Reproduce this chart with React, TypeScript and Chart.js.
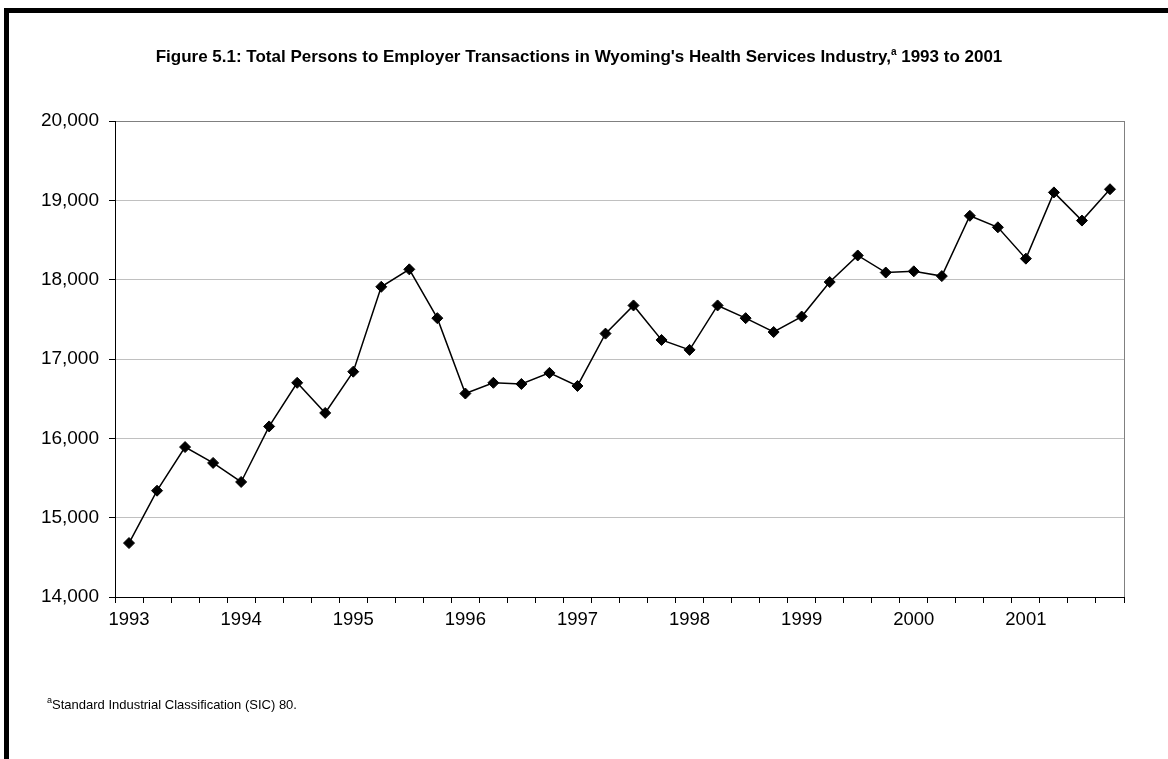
import React, { useEffect, useRef } from "react";
import { Chart, registerables } from "chart.js";

Chart.register(...registerables);

// ---- data ----
const years: string[] = ["1993", "1994", "1995", "1996", "1997", "1998", "1999", "2000", "2001"];
const quarters: string[] = ["Q1", "Q2", "Q3", "Q4"];
const categories: string[] = years.flatMap((y) => quarters.map((q) => `${y} ${q}`));
const transactions: number[] = [
  14680, 15340, 15890, 15690,
  15450, 16150, 16700, 16320,
  16840, 17910, 18130, 17515,
  16565, 16700, 16685, 16825,
  16660, 17320, 17675, 17240,
  17115, 17675, 17515, 17340,
  17535, 17970, 18305, 18090,
  18105, 18045, 18805, 18660,
  18265, 19100, 18745, 19140,
];
const yTickMin = 14000;
const yTickMax = 20000;
const yTickStep = 1000;

const titleMain = "Figure 5.1: Total Persons to Employer Transactions in Wyoming's Health Services Industry,";
const titleSup = "a";
const titleTail = " 1993 to 2001";
const footSup = "a";
const footText = "Standard Industrial Classification (SIC) 80.";

const FONT = '"Liberation Sans", Arial, sans-serif';

const textPlugin = {
  id: "figureText",
  afterDraw(chart: any) {
    const ctx = chart.ctx as CanvasRenderingContext2D;
    const area = chart.chartArea;
    ctx.save();
    // plot-area right border
    ctx.strokeStyle = "#808080";
    ctx.lineWidth = 1;
    ctx.beginPath();
    ctx.moveTo(Math.round(area.right) + 0.5, Math.round(area.top));
    ctx.lineTo(Math.round(area.right) + 0.5, Math.round(area.bottom));
    ctx.stroke();

    // title
    ctx.fillStyle = "#000";
    ctx.textBaseline = "alphabetic";
    ctx.textAlign = "left";
    const mainFont = `bold 17px ${FONT}`;
    const supFont = `bold 10px ${FONT}`;
    ctx.font = mainFont;
    const w1 = ctx.measureText(titleMain).width;
    const w3 = ctx.measureText(titleTail).width;
    ctx.font = supFont;
    const w2 = ctx.measureText(titleSup).width;
    const total = w1 + w2 + w3;
    let x = 579 - total / 2;
    const by = 62;
    ctx.font = mainFont;
    ctx.fillText(titleMain, x, by);
    x += w1;
    ctx.font = supFont;
    ctx.fillText(titleSup, x, by - 7);
    x += w2;
    ctx.font = mainFont;
    ctx.fillText(titleTail, x, by);

    // footnote
    let fx = 47;
    const fy = 709;
    ctx.font = `9px ${FONT}`;
    ctx.fillText(footSup, fx, fy - 6);
    fx += ctx.measureText(footSup).width;
    ctx.font = `13px ${FONT}`;
    ctx.fillText(footText, fx, fy);
    ctx.restore();
  },
};

export default function App() {
  const ref = useRef<HTMLCanvasElement | null>(null);

  useEffect(() => {
    if (!ref.current) return;
    const chart = new Chart(ref.current, {
      type: "line",
      data: {
        labels: categories,
        datasets: [
          {
            data: transactions,
            borderColor: "#000",
            borderWidth: 1.5,
            pointStyle: "rectRot",
            pointRadius: 5.5,
            pointBackgroundColor: "#000",
            pointBorderColor: "#000",
            pointBorderWidth: 1,
            tension: 0,
            fill: false,
          },
        ],
      },
      options: {
        animation: false,
        responsive: false,
        maintainAspectRatio: false,
        layout: { padding: { left: 0, top: 121, right: 44, bottom: 112 } },
        plugins: {
          legend: { display: false },
          title: { display: false },
          tooltip: { enabled: false },
        },
        scales: {
          x: {
            type: "category",
            offset: true,
            afterFit: (scale: any) => {
              scale.height = 50;
            },
            grid: {
              offset: true,
              drawOnChartArea: false,
              drawTicks: true,
              tickLength: 6,
              tickColor: "#000",
              color: "#000",
            },
            border: { color: "#000", width: 1 },
            ticks: {
              autoSkip: false,
              maxRotation: 0,
              minRotation: 0,
              padding: 6,
              color: "#000",
              font: { family: FONT, size: 18.5 },
              callback: (_v: any, i: number) => (i % 4 === 0 ? years[i / 4] : ""),
            },
          },
          y: {
            min: yTickMin,
            max: yTickMax,
            afterFit: (scale: any) => {
              scale.width = 115;
            },
            grid: {
              color: (c: any) => (c.tick && c.tick.value === yTickMax ? "#808080" : "#c0c0c0"),
              tickColor: "#000",
              tickLength: 6,
              lineWidth: 1,
            },
            border: { color: "#000", width: 1 },
            ticks: {
              stepSize: yTickStep,
              padding: 10,
              color: "#000",
              font: { family: FONT, size: 19 },
              callback: (v: any) => Number(v).toLocaleString("en-US"),
            },
          },
        },
      },
      plugins: [textPlugin],
    });
    return () => chart.destroy();
  }, []);

  return (
    <div style={{ position: "absolute", left: 0, top: 0, width: 1168, height: 759, background: "#fff", overflow: "hidden" }}>
      <canvas ref={ref} width={1168} height={759} style={{ position: "absolute", left: 0, top: 0 }} />
      <div
        style={{
          position: "absolute",
          left: 4,
          top: 8,
          right: 0,
          bottom: 0,
          borderTop: "5px solid #000",
          borderLeft: "5px solid #000",
          pointerEvents: "none",
        }}
      />
    </div>
  );
}
